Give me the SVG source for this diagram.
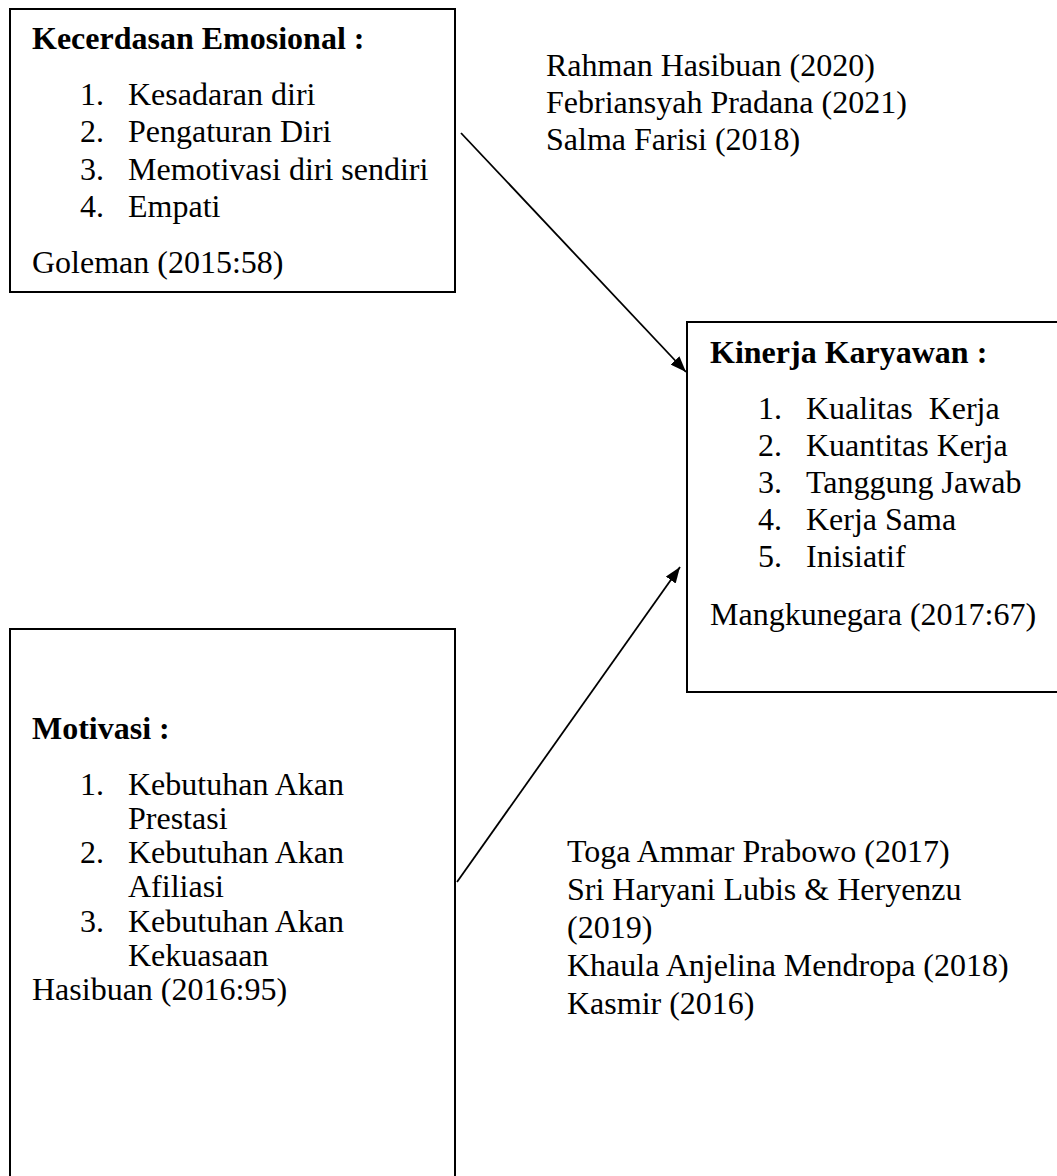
<svg xmlns="http://www.w3.org/2000/svg" width="1057" height="1176" viewBox="0 0 1057 1176">
<defs>
<style>
.box{fill:#fff;stroke:#000;stroke-width:2}
text{font-family:"Liberation Serif","Times New Roman",serif;font-size:32px;fill:#000}
.b{font-weight:bold}
.conn{stroke:#000;stroke-width:1.8;fill:none}
</style>
<marker id="ah" viewBox="0 0 16 12" refX="16" refY="6" markerWidth="16" markerHeight="12" markerUnits="userSpaceOnUse" orient="auto">
<path d="M0,0 L16,6 L0,12 z" fill="#000"/>
</marker>
</defs>
<rect width="1057" height="1176" fill="#fff"/>
<g id="node-kecerdasan">
<rect class="box" x="10" y="9" width="445" height="283"/>
<text class="b" x="32" y="49">Kecerdasan Emosional :</text>
<text x="80" y="105">1.</text><text x="128" y="105">Kesadaran diri</text>
<text x="80" y="142">2.</text><text x="128" y="142">Pengaturan Diri</text>
<text x="80" y="180">3.</text><text x="128" y="180">Memotivasi diri sendiri</text>
<text x="80" y="217">4.</text><text x="128" y="217">Empati</text>
<text x="32" y="273">Goleman (2015:58)</text>
</g>
<g id="node-kinerja">
<rect class="box" x="687" y="322" width="380" height="370"/>
<text class="b" x="710" y="363">Kinerja Karyawan :</text>
<text x="758" y="419">1.</text><text x="806" y="419" style="white-space:pre">Kualitas  Kerja</text>
<text x="758" y="456">2.</text><text x="806" y="456">Kuantitas Kerja</text>
<text x="758" y="493">3.</text><text x="806" y="493">Tanggung Jawab</text>
<text x="758" y="530">4.</text><text x="806" y="530">Kerja Sama</text>
<text x="758" y="567">5.</text><text x="806" y="567">Inisiatif</text>
<text x="710" y="625">Mangkunegara (2017:67)</text>
</g>
<g id="node-motivasi">
<rect class="box" x="10" y="629" width="445" height="560"/>
<text class="b" x="32" y="739">Motivasi :</text>
<text x="80" y="795">1.</text><text x="128" y="795">Kebutuhan Akan</text>
<text x="128" y="829">Prestasi</text>
<text x="80" y="863">2.</text><text x="128" y="863">Kebutuhan Akan</text>
<text x="128" y="897">Afiliasi</text>
<text x="80" y="932">3.</text><text x="128" y="932">Kebutuhan Akan</text>
<text x="128" y="966">Kekuasaan</text>
<text x="32" y="1000">Hasibuan (2016:95)</text>
</g>
<g id="refs-top">
<text x="546" y="76">Rahman Hasibuan (2020)</text>
<text x="546" y="113">Febriansyah Pradana (2021)</text>
<text x="546" y="150">Salma Farisi (2018)</text>
</g>
<g id="refs-bottom">
<text x="567" y="862">Toga Ammar Prabowo (2017)</text>
<text x="567" y="900">Sri Haryani Lubis &amp; Heryenzu</text>
<text x="567" y="938">(2019)</text>
<text x="567" y="976">Khaula Anjelina Mendropa (2018)</text>
<text x="567" y="1014">Kasmir (2016)</text>
</g>
<g id="connectors">
<line class="conn" x1="461" y1="133" x2="686" y2="372" marker-end="url(#ah)"/>
<line class="conn" x1="457" y1="882" x2="680" y2="567" marker-end="url(#ah)"/>
</g>
</svg>
